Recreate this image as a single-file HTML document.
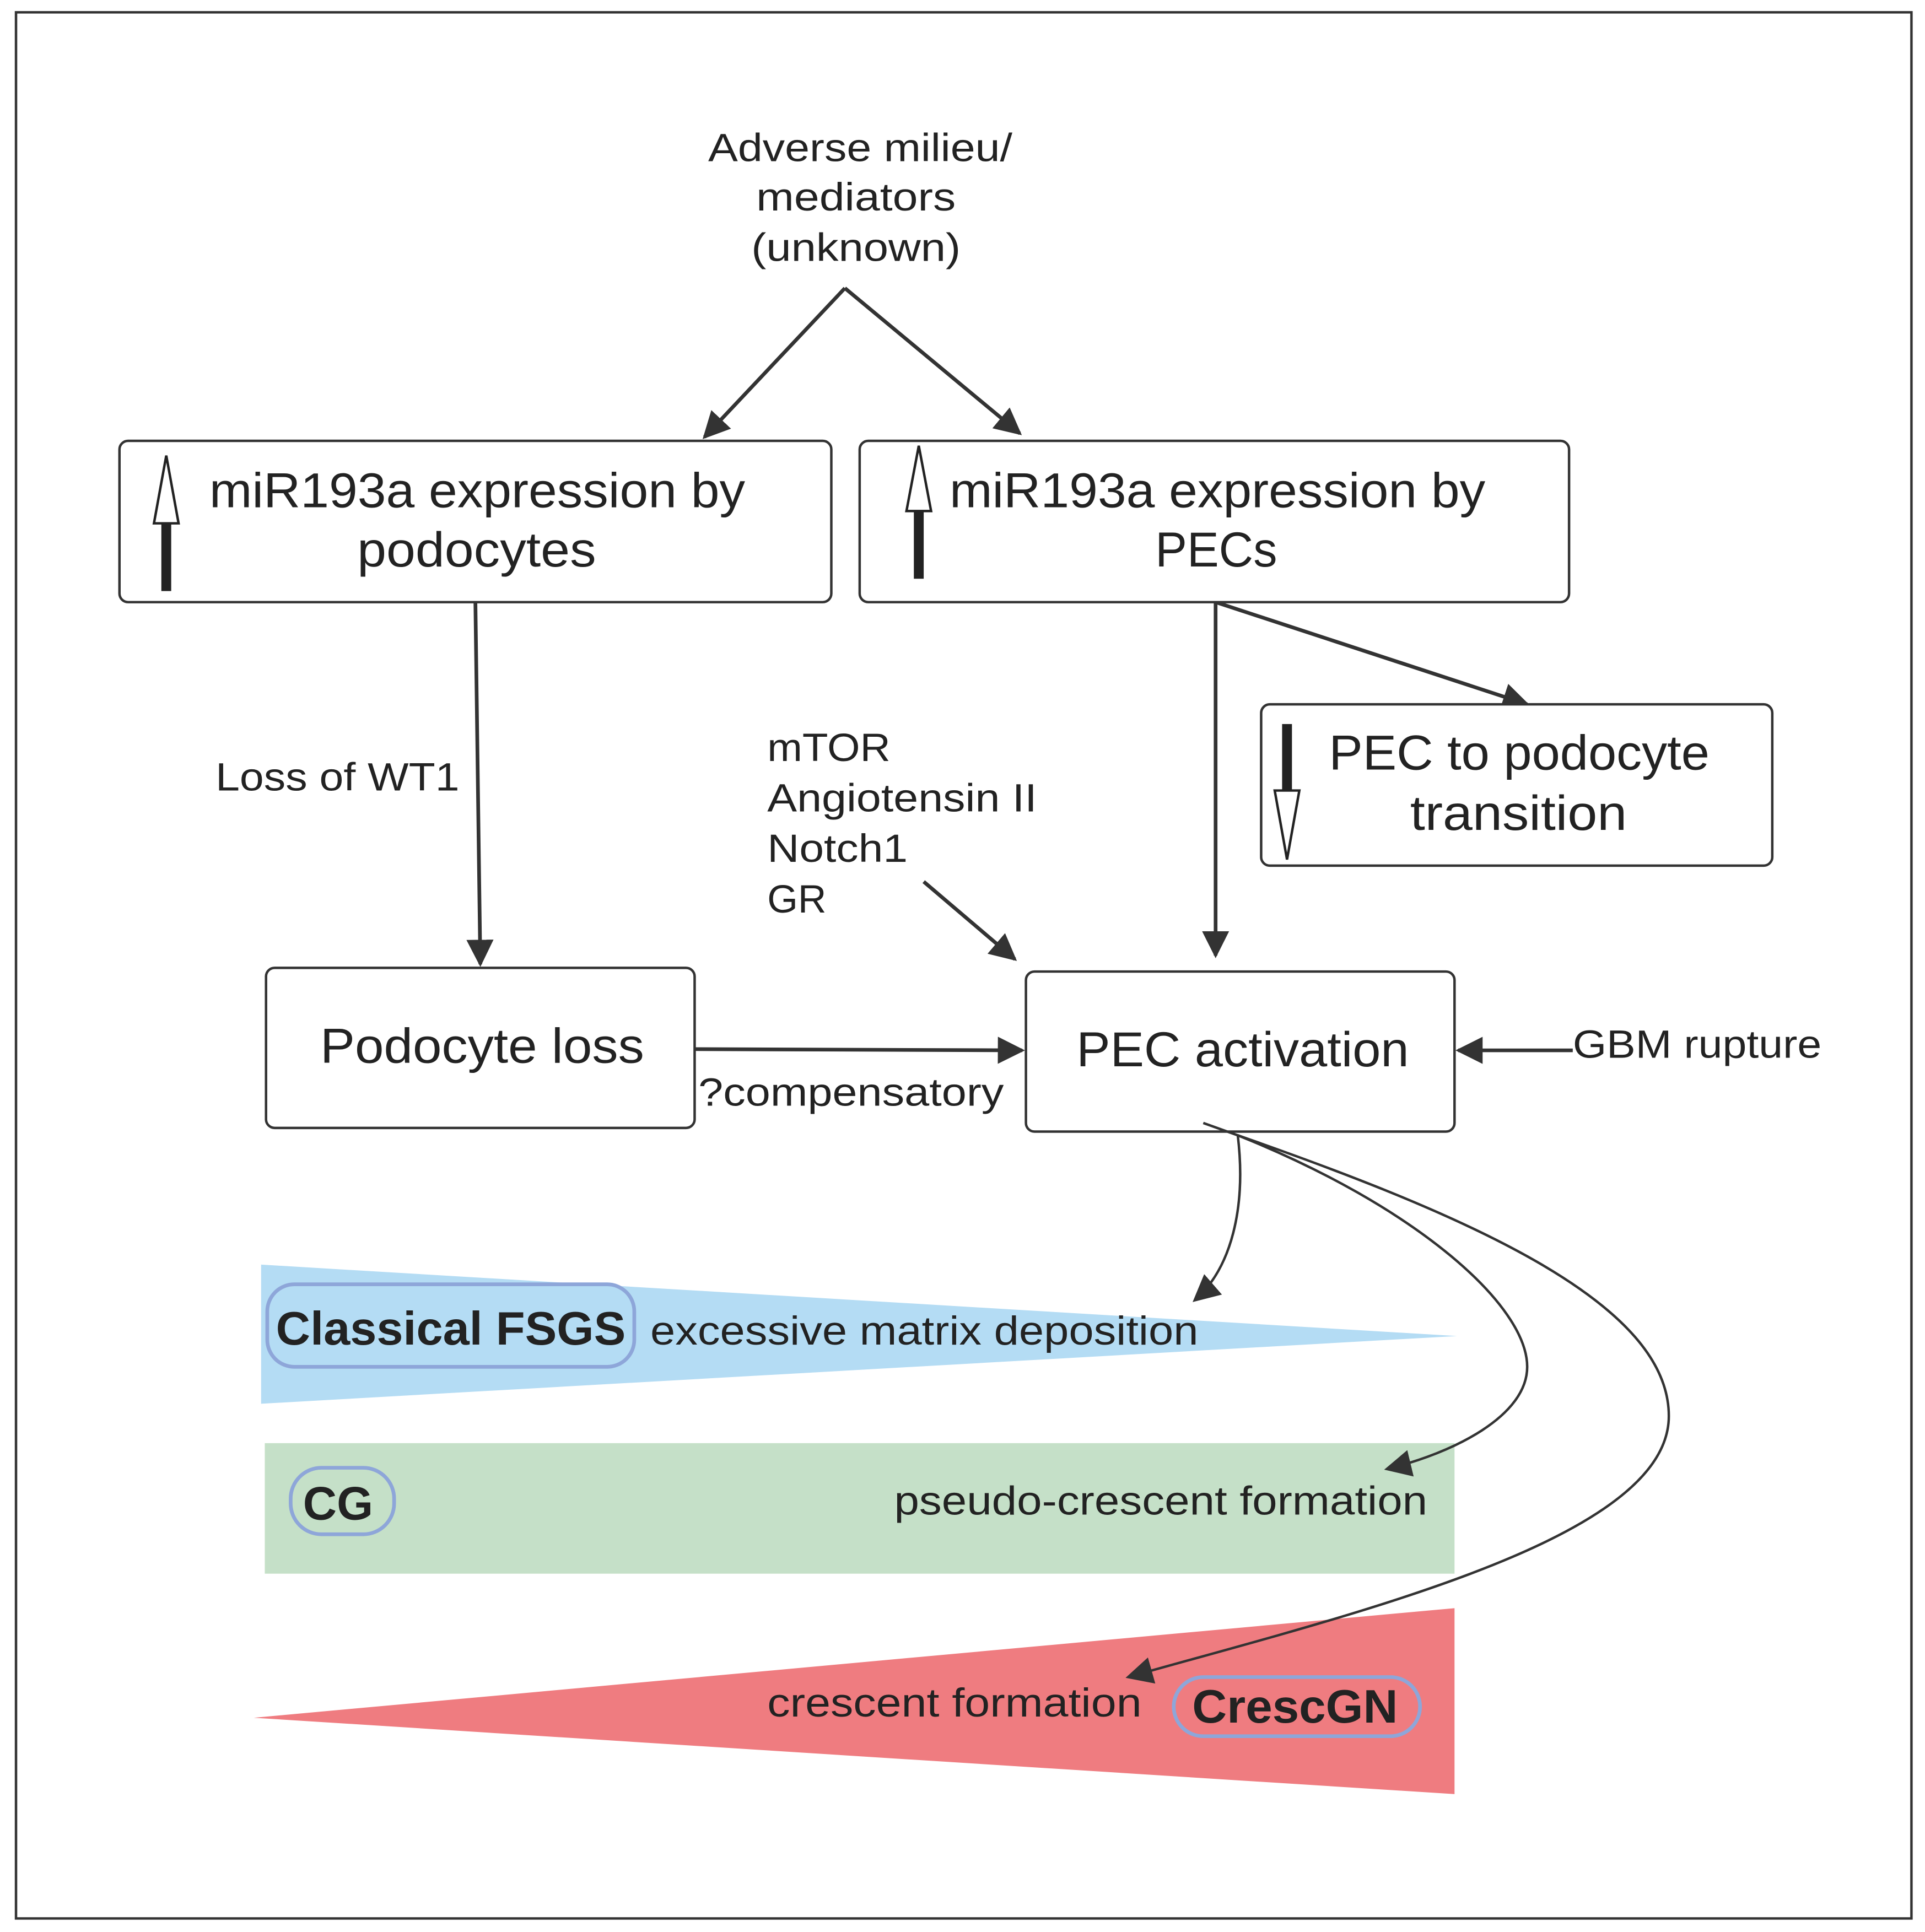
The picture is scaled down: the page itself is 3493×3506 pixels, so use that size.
<!DOCTYPE html>
<html><head><meta charset="utf-8"><style>html,body{margin:0;padding:0;background:#fff}svg{display:block}</style></head>
<body>
<svg width="3493" height="3506" viewBox="0 0 1563 1569" preserveAspectRatio="none" xmlns="http://www.w3.org/2000/svg" font-family="Liberation Sans, sans-serif" fill="#222">
<defs>
<marker id="b" viewBox="0 0 10 10" refX="9" refY="5" markerWidth="22" markerHeight="22" orient="auto" markerUnits="userSpaceOnUse"><path d="M0,0 L10,5 L0,10 z" fill="#333"/></marker>
</defs>
<rect x="0" y="0" width="1563" height="1569" fill="#fff"/>
<rect x="13" y="10" width="1539" height="1548" fill="none" stroke="#333" stroke-width="2"/>

<g font-size="32">
<text x="575" y="131" textLength="247" lengthAdjust="spacingAndGlyphs">Adverse milieu/</text>
<text x="614" y="171" textLength="162" lengthAdjust="spacingAndGlyphs">mediators</text>
<text x="610" y="212" textLength="170" lengthAdjust="spacingAndGlyphs">(unknown)</text>
</g>
<g stroke="#333" stroke-width="3" fill="none" marker-end="url(#b)">
<line x1="686" y1="234" x2="572" y2="355"/>
<line x1="686" y1="234" x2="828" y2="352"/>
<line x1="386" y1="489" x2="390" y2="783"/>
<line x1="987" y1="489" x2="987" y2="776"/>
<line x1="987" y1="489" x2="1240" y2="572"/>
<line x1="750" y1="716" x2="824" y2="779"/>
<line x1="564" y1="852" x2="830" y2="853"/>
<line x1="1277" y1="853" x2="1184" y2="853"/>
</g>

<g fill="#fff" stroke="#333" stroke-width="2">
<rect x="97" y="358" width="578" height="131" rx="7"/>
<rect x="698" y="358" width="576" height="131" rx="7"/>
<rect x="1024" y="572" width="415" height="131" rx="7"/>
<rect x="216" y="786" width="348" height="130" rx="7"/>
<rect x="833" y="789" width="348" height="130" rx="7"/>
</g>

<rect x="131" y="425" width="8" height="55" fill="#222"/>
<path d="M135,370 L145,425 L125,425 Z" fill="#fff" stroke="#222" stroke-width="2"/>
<rect x="742" y="415" width="8" height="55" fill="#222"/>
<path d="M746,362 L756,415 L736,415 Z" fill="#fff" stroke="#222" stroke-width="2"/>
<rect x="1041" y="588" width="8" height="54" fill="#222"/>
<path d="M1045,698 L1055,642 L1035,642 Z" fill="#fff" stroke="#222" stroke-width="2"/>

<g font-size="40">
<text x="170" y="412" textLength="435" lengthAdjust="spacingAndGlyphs">miR193a expression by</text>
<text x="290" y="460" textLength="194" lengthAdjust="spacingAndGlyphs">podocytes</text>
<text x="771" y="412" textLength="435" lengthAdjust="spacingAndGlyphs">miR193a expression by</text>
<text x="938" y="460" textLength="99" lengthAdjust="spacingAndGlyphs">PECs</text>
<text x="1079" y="625" textLength="309" lengthAdjust="spacingAndGlyphs">PEC to podocyte</text>
<text x="1145" y="674" textLength="176" lengthAdjust="spacingAndGlyphs">transition</text>
<text x="260" y="863" textLength="263" lengthAdjust="spacingAndGlyphs">Podocyte loss</text>
<text x="874" y="866" textLength="270" lengthAdjust="spacingAndGlyphs">PEC activation</text>
</g>
<g font-size="32">
<text x="175" y="642" textLength="198" lengthAdjust="spacingAndGlyphs">Loss of WT1</text>
<text x="623" y="618" textLength="100" lengthAdjust="spacingAndGlyphs">mTOR</text>
<text x="623" y="659" textLength="219" lengthAdjust="spacingAndGlyphs">Angiotensin II</text>
<text x="623" y="700" textLength="114" lengthAdjust="spacingAndGlyphs">Notch1</text>
<text x="623" y="741">GR</text>
<text x="567" y="898" textLength="248" lengthAdjust="spacingAndGlyphs">?compensatory</text>
<text x="1277" y="859" textLength="202" lengthAdjust="spacingAndGlyphs">GBM rupture</text>
</g>

<polygon points="212,1027 1183,1085 212,1140" fill="#b4dcf4"/>
<rect x="215" y="1172" width="966" height="106" fill="#c5e0c8"/>
<polygon points="206,1395 1181,1306 1181,1457" fill="#ef7c80"/>

<rect x="217" y="1043" width="298" height="67" rx="22" fill="none" stroke="#8ea6d9" stroke-width="3"/>
<text x="224" y="1092" font-size="38" font-weight="bold" textLength="284" lengthAdjust="spacingAndGlyphs">Classical FSGS</text>
<text x="528" y="1092" font-size="33" textLength="445" lengthAdjust="spacingAndGlyphs">excessive matrix deposition</text>
<rect x="236" y="1192" width="84" height="54" rx="25" fill="none" stroke="#8ea6d9" stroke-width="3"/>
<text x="246" y="1234" font-size="38" font-weight="bold">CG</text>
<text x="726" y="1230" font-size="33" textLength="433" lengthAdjust="spacingAndGlyphs">pseudo-crescent formation</text>
<rect x="953" y="1362" width="200" height="48" rx="24" fill="none" stroke="#8ea6d9" stroke-width="3"/>
<text x="968" y="1399" font-size="38" font-weight="bold" textLength="167" lengthAdjust="spacingAndGlyphs">CrescGN</text>
<text x="623" y="1394" font-size="33" textLength="304" lengthAdjust="spacingAndGlyphs">crescent formation</text>

<g stroke="#333" stroke-width="2" fill="none" marker-end="url(#b)">
<path d="M977,912 L1005,922 C1012,980 1000,1030 970,1056"/>
<path d="M1005,922 C1150,980 1240,1060 1240,1110 C1240,1150 1180,1180 1126,1193"/>
<path d="M1005,922 C1200,990 1355,1060 1355,1150 C1355,1250 1100,1310 916,1362"/>
</g>
</svg>
</body></html>
